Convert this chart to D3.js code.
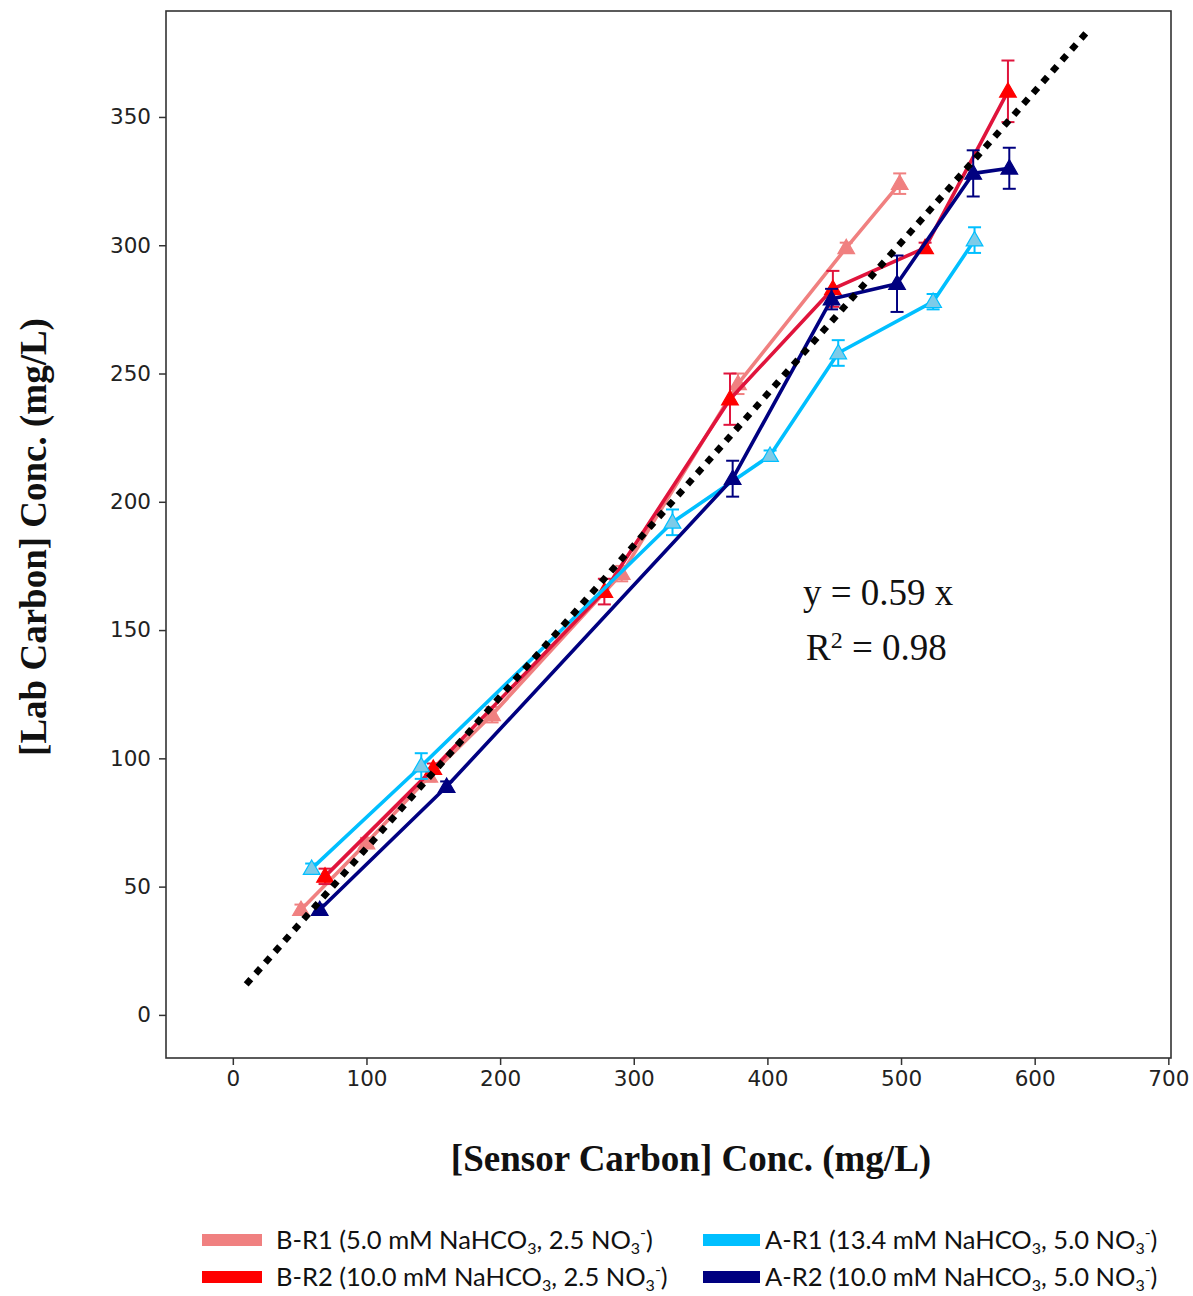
<!DOCTYPE html>
<html><head><meta charset="utf-8">
<script src="https://cdn.jsdelivr.net/npm/d3@7"></script>
<style>body{margin:0;background:#fff}svg{display:block}</style>
</head><body>
<svg id="c" width="1193" height="1296"></svg>
<script>
// ---- data ----
const xTicks = [0, 100, 200, 300, 400, 500, 600, 700];
const yTicks = [0, 50, 100, 150, 200, 250, 300, 350];

const bR1X = [51, 100, 147, 194, 291, 378, 459, 499];
const bR1Y = [41, 67, 93, 117, 172, 246, 299, 324];
const bR1Err = [2, 2, 2, 3, 3, 4, 2, 4];

const bR2X = [69, 150, 278, 372, 449, 518, 580];
const bR2Y = [54, 96, 165, 240, 283, 299, 360];
const bR2Err = [3, 2, 5, 10, 7, 2, 12];

const aR1X = [59, 141, 329, 402, 453, 524, 555];
const aR1Y = [57, 97, 192, 218, 258, 278, 302];
const aR1Err = [2, 5, 5, 2, 5, 3, 5];

const aR2X = [65, 160, 374, 448, 497, 554, 581];
const aR2Y = [41, 89, 209, 279, 285, 328, 330];
const aR2Err = [2, 2, 7, 4, 11, 9, 8];

const fitX = [10, 639];
const fitSlope = 0.59;
const fitIntercept = 6;

const legendLabels = [
  ["B-R1 (5.0 mM NaHCO", "3", ", 2.5 NO", "3", "-", ")"],
  ["B-R2 (10.0 mM NaHCO", "3", ", 2.5 NO", "3", "-", ")"],
  ["A-R1 (13.4 mM NaHCO", "3", ", 5.0 NO", "3", "-", ")"],
  ["A-R2 (10.0 mM NaHCO", "3", ", 5.0 NO", "3", "-", ")"]
];

// ---- setup ----
const svg = d3.select("#c");
const L = 166, R = 1171, T = 11, B = 1058;
const x = d3.scaleLinear().domain([-50, 702]).range([L, R]);
const y = d3.scaleLinear().domain([-16.8, 391.3]).range([B, T]);

const series = [
  {xs: bR1X, ys: bR1Y, es: bR1Err, line: "#f08080", mfill: "#f08080", mstroke: "#f08080", legend: "#f08080"},
  {xs: bR2X, ys: bR2Y, es: bR2Err, line: "#e0143c", mfill: "#ff0000", mstroke: "#ff0000", legend: "#ff0000"},
  {xs: aR1X, ys: aR1Y, es: aR1Err, line: "#00bfff", mfill: "#7dcbe8", mstroke: "#00bfff", legend: "#00bfff"},
  {xs: aR2X, ys: aR2Y, es: aR2Err, line: "#000080", mfill: "#000080", mstroke: "#000080", legend: "#000080"}
];

const plot = svg.append("g");

// axes
const xAxis = d3.axisBottom(x).tickValues(xTicks).tickSize(7).tickPadding(6);
const yAxis = d3.axisLeft(y).tickValues(yTicks).tickSize(7).tickPadding(8);
const gx = svg.append("g").attr("transform", `translate(0,${B})`).call(xAxis);
const gy = svg.append("g").attr("transform", `translate(${L},0)`).call(yAxis);
[gx, gy].forEach(g => {
  g.select(".domain").remove();
  g.selectAll("line").attr("stroke", "#333").attr("stroke-width", 1.5);
  g.selectAll("text").attr("font-family", "DejaVu Sans").attr("font-size", 21.5).attr("fill", "#222");
});

const tri = d3.symbol().type(d3.symbolTriangle).size(120);

series.forEach(s => {
  const pts = s.xs.map((v, i) => [v, s.ys[i], s.es[i]]);
  const g = plot.append("g");
  g.append("path")
    .attr("d", d3.line().x(d => x(d[0])).y(d => y(d[1]))(pts))
    .attr("fill", "none").attr("stroke", s.line).attr("stroke-width", 3.6)
    .attr("stroke-linejoin", "round");
  // error bars
  pts.forEach(d => {
    const cx = x(d[0]), y1 = y(d[1] + d[2]), y2 = y(d[1] - d[2]);
    g.append("line").attr("x1", cx).attr("x2", cx).attr("y1", y1).attr("y2", y2)
      .attr("stroke", s.line).attr("stroke-width", 2);
    [y1, y2].forEach(yy => g.append("line").attr("x1", cx - 6.5).attr("x2", cx + 6.5)
      .attr("y1", yy).attr("y2", yy).attr("stroke", s.line).attr("stroke-width", 2));
  });
  g.selectAll("path.m").data(pts).join("path").attr("class", "m")
    .attr("d", tri)
    .attr("transform", d => `translate(${x(d[0])},${y(d[1]) + 1})`)
    .attr("fill", s.mfill).attr("stroke", s.mstroke).attr("stroke-width", 1.2);
});

// fit line (dotted)
plot.append("path")
  .attr("d", d3.line().x(d => x(d)).y(d => y(fitSlope * d + fitIntercept))(fitX))
  .attr("fill", "none").attr("stroke", "#000").attr("stroke-width", 6.5)
  .attr("stroke-dasharray", "7 7.5");

// frame
svg.append("rect").attr("x", L).attr("y", T).attr("width", R - L).attr("height", B - T)
  .attr("fill", "none").attr("stroke", "#333").attr("stroke-width", 1.6);

// annotation
svg.append("text").attr("x", 803).attr("y", 605).attr("font-family", "Liberation Serif")
  .attr("font-size", 37).attr("fill", "#111").text("y = 0.59 x");
const r2 = svg.append("text").attr("x", 806).attr("y", 660).attr("font-family", "Liberation Serif")
  .attr("font-size", 37).attr("fill", "#111");
r2.append("tspan").text("R");
r2.append("tspan").attr("font-size", 24).attr("dy", -12).text("2");
r2.append("tspan").attr("dy", 12).text(" = 0.98");

// axis titles
svg.append("text").attr("x", 691).attr("y", 1171).attr("text-anchor", "middle")
  .attr("font-family", "Liberation Serif").attr("font-weight", "bold").attr("font-size", 37)
  .attr("fill", "#111").text("[Sensor Carbon] Conc. (mg/L)");
svg.append("text").attr("transform", "translate(46,537) rotate(-90)").attr("text-anchor", "middle")
  .attr("font-family", "Liberation Serif").attr("font-weight", "bold").attr("font-size", 37)
  .attr("fill", "#111").text("[Lab Carbon] Conc. (mg/L)");

// legend
const legPos = [
  {sx: 202, sw: 60, tx: 276, y: 1240},
  {sx: 202, sw: 60, tx: 276, y: 1277},
  {sx: 703, sw: 57, tx: 765, y: 1240},
  {sx: 703, sw: 57, tx: 765, y: 1277}
];
legendLabels.forEach((lab, i) => {
  const p = legPos[i];
  svg.append("rect").attr("x", p.sx).attr("y", p.y - 6).attr("width", p.sw).attr("height", 12)
    .attr("fill", series[i].legend);
  const t = svg.append("text").attr("x", p.tx).attr("y", p.y + 9)
    .attr("font-family", "Lato").attr("font-size", 25.5).attr("fill", "#111");
  t.append("tspan").text(lab[0]);
  t.append("tspan").attr("font-size", 16).attr("dy", 5).text(lab[1]);
  t.append("tspan").attr("dy", -5).text(lab[2]);
  t.append("tspan").attr("font-size", 16).attr("dy", 5).text(lab[3]);
  t.append("tspan").attr("font-size", 16).attr("dy", -16).text(lab[4]);
  t.append("tspan").attr("dy", 11).text(lab[5]);
});
</script>
</body></html>
